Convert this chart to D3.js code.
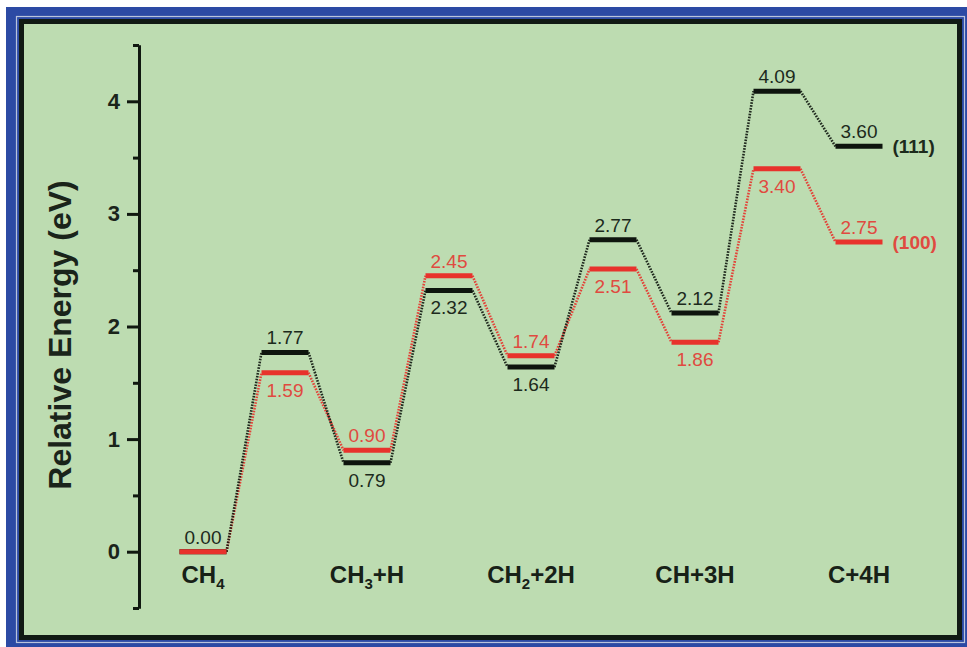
<!DOCTYPE html>
<html>
<head>
<meta charset="utf-8">
<script src="https://cdn.jsdelivr.net/npm/d3@7"></script>
<style>
  html, body { margin: 0; padding: 0; background: #ffffff; }
  svg { display: block; }
</style>
</head>
<body>
<svg id="chart" width="967" height="647"></svg>
<script>
// ---------------- data ----------------
const states = ["CH4", "TS1", "CH3+H", "TS2", "CH2+2H", "TS3", "CH+3H", "TS4", "C+4H"];
const energy111 = [0.00, 1.77, 0.79, 2.32, 1.64, 2.77, 2.12, 4.09, 3.60];
const energy100 = [0.00, 1.59, 0.90, 2.45, 1.74, 2.51, 1.86, 3.40, 2.75];
const labelSide111 = ["above", "above", "below", "below", "below", "above", "above", "above", "above"];
const labelSide100 = ["none", "below", "above", "above", "above", "below", "below", "below", "above"];
const categoryStates = ["CH4", "CH3+H", "CH2+2H", "CH+3H", "C+4H"];
const categoryLabels = ["CH_4", "CH_3+H", "CH_2+2H", "CH+3H", "C+4H"];
const majorTicks = [0, 1, 2, 3, 4];
const minorTicks = [-0.5, 0.5, 1.5, 2.5, 3.5, 4.5];
const seriesNames = ["(111)", "(100)"];
const yTitle = "Relative Energy (eV)";

// ---------------- styles ----------------
const FONT = "'Liberation Sans', Arial, Helvetica, sans-serif";
const C_BLACK = "#0e150e";
const C_BLACK_TXT = "#1c2a1c";
const C_RED = "#e8322c";
const C_RED_TXT = "#e04a40";
const LEVEL_W = 47;

const svg = d3.select("#chart");

// frame
svg.append("rect").attr("x", 6).attr("y", 7).attr("width", 961).attr("height", 640).attr("fill", "#2c4aa4");
svg.append("rect").attr("x", 16.5).attr("y", 16.5).attr("width", 948).attr("height", 626)
  .attr("fill", "none").attr("stroke", "#b9c4dc").attr("stroke-width", 1.2);
svg.append("rect").attr("x", 21.5).attr("y", 21.5).attr("width", 938).attr("height", 616)
  .attr("fill", "#bddcb1").attr("stroke", "#111a14").attr("stroke-width", 5);

// scales
const x = d3.scalePoint().domain(states).range([203, 859]);
const y = d3.scaleLinear().domain([-0.5, 4.5]).range([608, 45]);

// y axis (minor + major)
const axisX = 139;
const minorAxis = svg.append("g").attr("transform", `translate(${axisX},0)`)
  .call(d3.axisLeft(y).tickValues(minorTicks).tickSize(6).tickSizeOuter(0).tickFormat(""));
minorAxis.selectAll(".tick text").remove();
const majorAxis = svg.append("g").attr("transform", `translate(${axisX},0)`)
  .call(d3.axisLeft(y).tickValues(majorTicks).tickSize(12).tickSizeOuter(0).tickPadding(7).tickFormat(d3.format("d")));
[minorAxis, majorAxis].forEach(g => {
  g.select(".domain").attr("stroke", "#101810").attr("stroke-width", 3);
  g.selectAll(".tick line").attr("stroke", "#101810").attr("stroke-width", 3);
});
majorAxis.selectAll(".tick text")
  .attr("font-family", FONT).attr("font-size", 22).attr("font-weight", "bold").attr("fill", "#1a241a");

// y title
svg.append("text")
  .attr("transform", `translate(71,${335}) rotate(-90)`)
  .attr("text-anchor", "middle")
  .attr("font-family", FONT).attr("font-size", 32).attr("font-weight", "bold")
  .attr("fill", "#1a241a")
  .text(yTitle);

// series
const series = [
  { name: seriesNames[1], values: energy100, sides: labelSide100, color: C_RED, txt: C_RED_TXT },
  { name: seriesNames[0], values: energy111, sides: labelSide111, color: C_BLACK, txt: C_BLACK_TXT }
];

// connectors
series.forEach(s => {
  const g = svg.append("g");
  for (let i = 0; i < states.length - 1; i++) {
    g.append("line")
      .attr("x1", x(states[i]) + LEVEL_W / 2).attr("y1", y(s.values[i]))
      .attr("x2", x(states[i + 1]) - LEVEL_W / 2).attr("y2", y(s.values[i + 1]))
      .attr("stroke", s.color).attr("stroke-width", 2.6)
      .attr("stroke-dasharray", "1.6,1.3")
      .attr("opacity", 0.9);
  }
});

// levels: black first, red on top where equal
[series[1], series[0]].forEach(s => {
  svg.append("g").selectAll("line").data(states).join("line")
    .attr("x1", d => x(d) - LEVEL_W / 2).attr("x2", d => x(d) + LEVEL_W / 2)
    .attr("y1", (d, i) => y(s.values[i])).attr("y2", (d, i) => y(s.values[i]))
    .attr("stroke", s.color).attr("stroke-width", 5);
});

// value labels
series.forEach(s => {
  svg.append("g").selectAll("text").data(states.map((d, i) => ({ st: d, v: s.values[i], side: s.sides[i] }))
    .filter(d => d.side !== "none"))
    .join("text")
    .attr("x", d => x(d.st))
    .attr("y", d => d.side === "above" ? y(d.v) - 8 : y(d.v) + 24)
    .attr("text-anchor", "middle")
    .attr("font-family", FONT).attr("font-size", 19)
    .attr("fill", s.txt)
    .text(d => d.v.toFixed(2));
});

// series names
series.forEach(s => {
  const last = states[states.length - 1];
  svg.append("text")
    .attr("x", x(last) + LEVEL_W / 2 + 10)
    .attr("y", y(s.values[s.values.length - 1]))
    .attr("dy", "0.35em")
    .attr("font-family", FONT).attr("font-size", 19).attr("font-weight", "bold")
    .attr("fill", s.color === C_RED ? C_RED_TXT : C_BLACK_TXT)
    .text(s.name);
});

// category labels with subscripts
const catG = svg.append("g");
categoryStates.forEach((st, k) => {
  const t = catG.append("text")
    .attr("x", x(st)).attr("y", 583)
    .attr("text-anchor", "middle")
    .attr("font-family", FONT).attr("font-size", 24).attr("font-weight", "bold")
    .attr("fill", "#172117");
  const parts = categoryLabels[k].split(/(_\d)/).filter(p => p.length);
  let shift = 0;
  parts.forEach(p => {
    if (p.startsWith("_")) {
      t.append("tspan").attr("font-size", 15).attr("dy", 6 - shift).text(p.slice(1));
      shift = 6;
    } else {
      t.append("tspan").attr("dy", -shift).text(p);
      shift = 0;
    }
  });
});
</script>
</body>
</html>
